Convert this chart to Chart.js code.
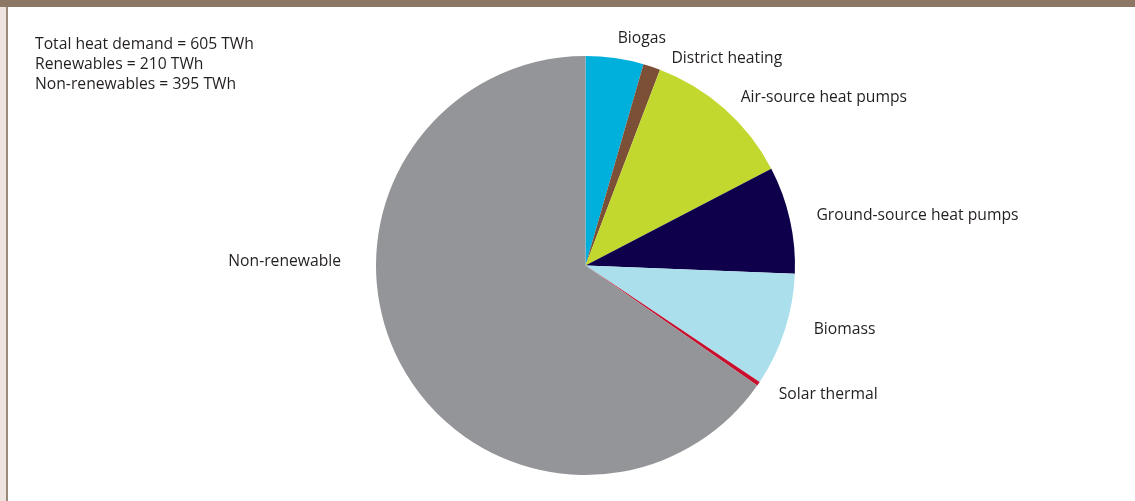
<!DOCTYPE html>
<html><head><meta charset="utf-8">
<script src="https://cdn.jsdelivr.net/npm/chart.js@4"></script>
<style>
html,body{margin:0;padding:0;background:#fff;width:1135px;height:501px;overflow:hidden}
#frame{position:absolute;left:0;top:0;width:1135px;height:501px}
#topbar{position:absolute;left:0;top:0;width:1135px;height:7px;background:#8B7763}
#lstrip{position:absolute;left:0;top:7px;width:6px;height:494px;background:#EDE3DF}
#lline{position:absolute;left:6px;top:7px;width:2px;height:494px;background:#9C8A79}
#wrap{position:absolute;left:0;top:0;width:1135px;height:501px}
</style></head>
<body>
<div id="frame"><div id="topbar"></div><div id="lstrip"></div><div id="lline"></div></div>
<div id="wrap"><canvas id="c" width="1135" height="501"></canvas></div>
<script>
const categories = ["Biogas","District heating","Air-source heat pumps","Ground-source heat pumps","Biomass","Solar thermal","Non-renewable"];
const valuesTWh = [27, 8, 70, 50, 53, 2, 395];
const colors = ["#00B0DC","#7B5037","#C3D82E","#0E004A","#ABDFEC","#C8102E","#939598"];
const summaryLines = ["Total heat demand = 605 TWh","Renewables = 210 TWh","Non-renewables = 395 TWh"];

// label placement nudges (dx, dy) relative to anchor outside each slice
const labelNudge = [[0,1],[13,12],[2,4],[6,0],[9,-7],[3,-1],[-40,-110]];
const FONT = '15.7px "Open Sans", sans-serif';
const TXT = '#231F20';

const labelPlugin = {
  id:'labels',
  afterDatasetsDraw(chart){
    const ctx = chart.ctx;
    const meta = chart.getDatasetMeta(0);
    ctx.save();
    ctx.font = FONT; ctx.fillStyle = TXT; ctx.textBaseline='middle';
    meta.data.forEach((arc,i)=>{
      const p = arc.getProps(['x','y','startAngle','endAngle','outerRadius'],true);
      const mid = (p.startAngle+p.endAngle)/2;
      const r = p.outerRadius + 21;
      let x = p.x + Math.cos(mid)*r + labelNudge[i][0];
      let y = p.y + Math.sin(mid)*r + labelNudge[i][1];
      const right = Math.cos(mid) >= 0;
      ctx.textAlign = right ? 'left' : 'right';
      ctx.fillText(categories[i], x, y);
    });
    ctx.textAlign='left';
    summaryLines.forEach((s,k)=>ctx.fillText(s, 35, 45 + k*20));
    ctx.restore();
  }
};

new Chart(document.getElementById('c'),{
  type:'pie',
  data:{labels:categories,datasets:[{data:valuesTWh,backgroundColor:colors,borderWidth:0}]},
  options:{
    responsive:false,animation:false,
    layout:{padding:{left:376,top:56,right:340,bottom:26}},
    plugins:{legend:{display:false},tooltip:{enabled:false}}
  },
  plugins:[labelPlugin]
});
</script>
</body></html>
